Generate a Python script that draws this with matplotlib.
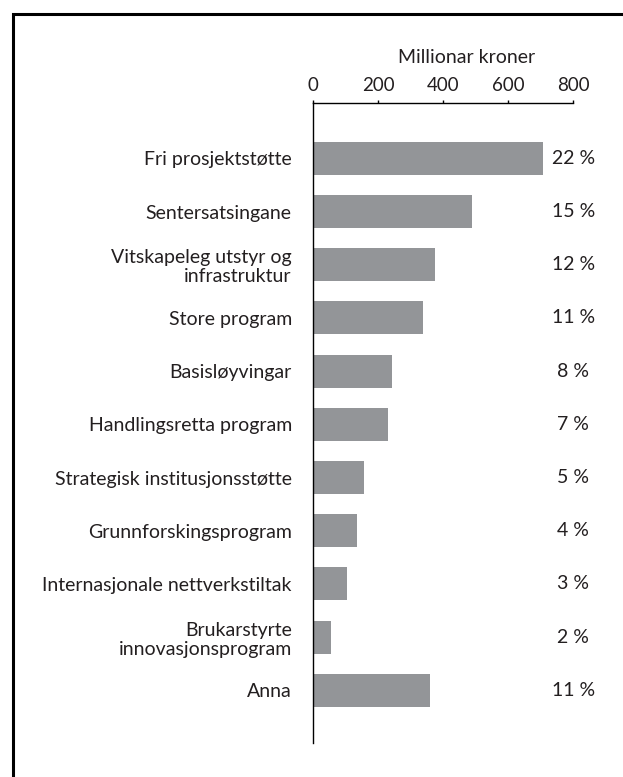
import matplotlib.pyplot as plt
from matplotlib.patches import Rectangle

plt.rcParams["font.family"] = ["Lato", "DejaVu Sans"]

# ── Data ──────────────────────────────────────────────────────────────────────

CATEGORIES = [
    "Fri prosjektstøtte",
    "Sentersatsingane",
    "Vitskapeleg utstyr og\ninfrastruktur",
    "Store program",
    "Basisløyvingar",
    "Handlingsretta program",
    "Strategisk institusjonsstøtte",
    "Grunnforskingsprogram",
    "Internasjonale nettverkstiltak",
    "Brukarstyrte\ninnovasjonsprogram",
    "Anna",
]

# Million NOK
VALUES = [706, 488, 374, 337, 242, 230, 155, 134, 103, 54, 359]

SHARES = ["22 %", "15 %", "12 %", "11 %", "8 %", "7 %", "5 %", "4 %", "3 %", "2 %", "11 %"]

XTICKS = [0, 200, 400, 600, 800]

BAR_COLOR  = "#939598"
TEXT_COLOR = "#231f20"
FS = 14

# ── Plot ──────────────────────────────────────────────────────────────────────

fig = plt.figure(figsize=(6.23, 7.77), dpi=100)
ax = fig.add_axes([0.5029, 0.0441, 0.4174, 0.8233])

ypos = list(range(len(CATEGORIES)))
ax.barh(ypos, VALUES, height=0.62, color=BAR_COLOR)

for y, share in zip(ypos, SHARES):
    ax.text(800, y, share, ha="center", va="center", fontsize=FS, color=TEXT_COLOR)

ax.set_xlim(0, 800)
ax.set_ylim(10.985, -1.04)

ax.xaxis.tick_top()
ax.set_xticks(XTICKS)
ax.set_xticklabels([str(t) for t in XTICKS])
ax.tick_params(axis="x", direction="out", length=2.5, width=1, pad=4,
               labelsize=FS - 0.5, labelcolor=TEXT_COLOR, color="black")
ax.set_yticks(ypos)
ax.set_yticklabels(CATEGORIES, linespacing=1.15)
ax.tick_params(axis="y", length=0, pad=15.5, labelsize=FS, labelcolor=TEXT_COLOR)

ax.annotate("Millionar kroner", xy=(470, 1), xycoords=("data", "axes fraction"),
            xytext=(0, 33), textcoords="offset points",
            ha="center", va="center", fontsize=FS, color=TEXT_COLOR)

for side in ["right", "bottom"]:
    ax.spines[side].set_visible(False)
for side in ["top", "left"]:
    ax.spines[side].set_linewidth(1)
    ax.spines[side].set_color("black")

# outer frame: only top and left edges fall inside the image
fig.patches.append(Rectangle((13.5 / 623, -0.1), 1.2, 1.1 - 13.5 / 777,
                             transform=fig.transFigure, fill=False,
                             edgecolor="black", linewidth=2.2))

fig.savefig("out.png", dpi=100)
